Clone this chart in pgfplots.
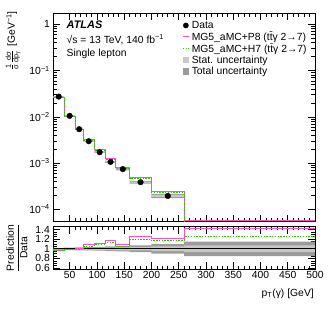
\documentclass[border=0pt]{standalone}
\usepackage{amsmath}
\usepackage{fontspec}
\setmainfont{Liberation Sans}
\usepackage{pgfplots}
\usepackage{pgfplotstable}
\pgfplotsset{compat=1.18}

\definecolor{pEight}{RGB}{255,80,200}
\definecolor{hSeven}{RGB}{40,200,0}
\definecolor{statc}{RGB}{200,200,200}
\definecolor{totc}{RGB}{155,155,155}

% bins: lower edge, data, ratio P8, ratio H7
\pgfplotstableread{
lo d r8 r7
20 0.0273 0.97 0.97
40 0.0105 0.99 0.98
60 0.0054 1.00 0.98
75 0.00297 1.08 1.05
95 0.00172 1.12 1.09
115 0.00106 1.18 1.14
135 0.00074 1.09 1.05
160 0.000386 1.25 1.19
200 0.000195 1.22 1.165
260 0.000041 1.42 1.26
500 0.000041 1.42 1.26
}\bins

% uncertainty band outline (upper edge forward, lower edge backward)
\pgfplotstableread{
x d ft fs
20 0.0273 0.020 0.010
40 0.0105 0.025 0.012
60 0.0054 0.030 0.015
75 0.00297 0.035 0.018
95 0.00172 0.040 0.020
115 0.00106 0.050 0.025
135 0.00074 0.055 0.030
160 0.000386 0.070 0.035
200 0.000195 0.100 0.050
260 0.000041 0.150 0.070
500 0.000041 0.150 0.070
500 0.000041 -0.150 -0.070
260 0.000195 -0.100 -0.050
200 0.000386 -0.070 -0.035
160 0.00074 -0.055 -0.030
135 0.00106 -0.050 -0.025
115 0.00172 -0.040 -0.020
95 0.00297 -0.035 -0.018
75 0.0054 -0.030 -0.015
60 0.0105 -0.025 -0.012
40 0.0273 -0.020 -0.010
20 0.0273 -0.020 -0.010
}\band

\pgfplotstableread{
x d
30 0.0273
50 0.0105
67.5 0.0054
85 0.00297
105 0.00172
125 0.00106
147.5 0.00074
180 0.000386
230 0.000195
}\datapts

\pgfplotsset{
  atl/.style={
    scale only axis,
    width=261.7bp,
    xmin=20, xmax=500,
    tick align=inside,
    xtick pos=both, ytick pos=both,
    axis line style={line width=0.8bp},
    every tick/.style={black, line width=0.6bp},
    major tick length=7bp,
    minor tick length=3.5bp,
    tick label style={font=\fontsize{10.4}{12}\selectfont},
    /pgf/number format/assume math mode=true,
    xtick={50,100,...,500},
    minor x tick num=4,
  },
  markleg/.style={legend image code/.code={\draw[##1] plot coordinates {(0.11cm,0cm)};}},
  lineleg/.style={legend image code/.code={\draw[##1] (0cm,0cm) -- (0.23cm,0cm);}},
  boxleg/.style={legend image code/.code={\fill[##1, draw=none] (0cm,-0.1cm) rectangle (0.23cm,0.12cm);}},
}

\begin{document}
\begin{tikzpicture}

\begin{axis}[atl,
  at={(53.3bp,-13.3bp)}, anchor=north west,
  height=208.4bp,
  ymode=log, ymin=5.4e-5, ymax=1.73,
  xticklabels={},
  ytick={1e-4,1e-3,1e-2,1e-1,1},
  yticklabels={10\textsuperscript{−4},10\textsuperscript{−3},10\textsuperscript{−2},10\textsuperscript{−1},1},
  legend style={at={(0.492,0.968)}, anchor=north west, draw=none, fill=none,
    font=\fontsize{10.4}{12}\selectfont, row sep=0.3bp, inner sep=0pt,
    nodes={inner sep=1bp},
    /tikz/every odd column/.append style={column sep=1bp}},
  legend cell align=left,
]
\addlegendimage{only marks, mark=*, mark size=2.6bp, black, markleg}
\addlegendentry{Data}
\addlegendimage{pEight, line width=1bp, lineleg}
\addlegendentry{MG5\_aMC+P8 (t\={t}γ 2→7)}
\addlegendimage{hSeven, line width=1bp, dash pattern=on 1.5bp off 1.3bp, lineleg}
\addlegendentry{MG5\_aMC+H7 (t\={t}γ 2→7)}
\addlegendimage{draw=none, fill=statc, boxleg}
\addlegendentry{Stat. uncertainty}
\addlegendimage{draw=none, fill=totc, boxleg}
\addlegendentry{Total uncertainty}

\addplot[const plot, fill=totc, draw=none, forget plot] table[x=x, y expr=\thisrow{d}*(1+\thisrow{ft})] {\band};
\addplot[const plot, fill=statc, draw=none, forget plot] table[x=x, y expr=\thisrow{d}*(1+\thisrow{fs})] {\band};

\addplot[const plot, pEight, line width=1bp, forget plot] table[x=lo, y expr=\thisrow{d}*\thisrow{r8}] {\bins};
\addplot[const plot, hSeven, line width=1bp, dash pattern=on 1.5bp off 1.3bp, forget plot] table[x=lo, y expr=\thisrow{d}*\thisrow{r7}] {\bins};
\addplot[only marks, mark=*, mark size=2.8bp, black, forget plot] table[x=x, y=d] {\datapts};
\end{axis}

\begin{axis}[atl,
  at={(53.3bp,-226.7bp)}, anchor=north west,
  height=42.3bp,
  ymin=0.58, ymax=1.46,
  ytick={0.6,0.8,1,1.2,1.4},
  yticklabels={0.6,0.8,1,1.2,1.4},
  minor y tick num=3,
  xticklabel style={yshift=1bp},
]
\addplot[const plot, fill=totc, draw=none] table[x=x, y expr=1+\thisrow{ft}] {\band};
\addplot[const plot, fill=statc, draw=none] table[x=x, y expr=1+\thisrow{fs}] {\band};
\addplot[black, line width=0.8bp] coordinates {(20,1) (500,1)};
\addplot[const plot, pEight, line width=1bp] table[x=lo, y=r8] {\bins};
\addplot[const plot, hSeven, line width=1bp, dash pattern=on 1.5bp off 1.3bp] table[x=lo, y=r7] {\bins};
\end{axis}

\node[anchor=west, font=\bfseries\itshape\fontsize{11}{13}\selectfont, inner sep=0pt] at (66.5bp,-24.3bp) {ATLAS};
\node[anchor=west, font=\fontsize{10.4}{12}\selectfont, inner sep=0pt] at (66.5bp,-39.5bp) {√s = 13 TeV, 140 fb\textsuperscript{−1}};
\node[anchor=west, font=\fontsize{10.4}{12}\selectfont, inner sep=0pt] at (66.5bp,-54bp) {Single lepton};

\node[rotate=90, anchor=east, font=\fontsize{10.4}{12}\selectfont, inner sep=0pt] at (13bp,-11bp)
  {$\frac{\text{1}}{\text{σ}}\frac{\text{dσ}}{\text{dp}_{\text{T}}}$ [GeV\textsuperscript{−1}]};
\node[rotate=90, font=\fontsize{10.4}{12}\selectfont, inner sep=0pt] at (17bp,-248bp)
  {$\dfrac{\text{Prediction}}{\text{Data}}$};
\node[anchor=base east, font=\fontsize{10.4}{12}\selectfont, inner sep=0pt] at (314bp,-296bp)
  {p\textsubscript{T}(γ) [GeV]};

\path (0,0) rectangle (332bp,-319bp);
\end{tikzpicture}
\end{document}
